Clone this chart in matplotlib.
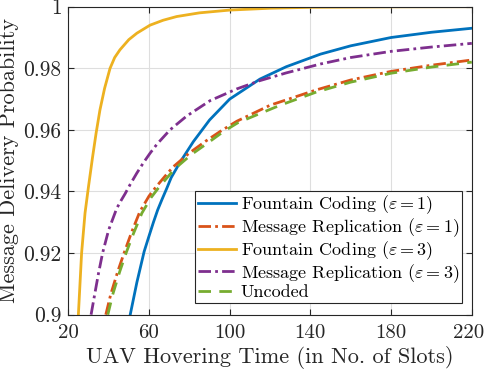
import matplotlib
matplotlib.use("Agg")
import matplotlib.pyplot as plt
import matplotlib.transforms as mtransforms

plt.rcParams['font.family'] = ['cmr10', 'DejaVu Serif']
plt.rcParams['mathtext.fontset'] = 'cm'
plt.rcParams['axes.formatter.use_mathtext'] = True

# Fountain Coding (eps = 1)
x_fc1 = [50.7, 54, 57.6, 60, 62.2, 64.3, 66.5, 68.8, 71, 75.4, 82, 90, 100, 115, 128, 145, 160, 180, 200, 220]
p_fc1 = [0.900, 0.9105, 0.9205, 0.9255, 0.9300, 0.9340, 0.9375, 0.9410, 0.9445, 0.9495, 0.9562, 0.9632,
         0.9700, 0.9765, 0.9805, 0.9846, 0.9873, 0.9900, 0.9917, 0.9930]

# Message Replication (eps = 1)
x_mr1 = [38.6, 41, 44.5, 47.8, 51.4, 55.5, 60, 63.5, 68, 72, 80, 88, 96, 103.5, 120, 143, 160, 180, 200, 220]
p_mr1 = [0.900, 0.9065, 0.9140, 0.9203, 0.9268, 0.9335, 0.9385, 0.9415, 0.9450, 0.9480, 0.9525, 0.9563,
         0.9598, 0.9628, 0.9680, 0.9730, 0.9762, 0.9790, 0.9810, 0.9827]

# Fountain Coding (eps = 3)
x_fc3 = [25, 26.6, 28.3, 30, 32, 33.8, 35.7, 38, 40.7, 43, 45.6, 50, 54, 60.5, 67, 73.7, 85, 100, 120, 140, 180, 220]
p_fc3 = [0.900, 0.920, 0.933, 0.9415, 0.951, 0.959, 0.9665, 0.9735, 0.980, 0.9835, 0.986, 0.9893, 0.9914,
         0.9940, 0.9956, 0.9968, 0.9980, 0.9989, 0.9995, 0.9998, 0.99995, 1.0]

# Message Replication (eps = 3)
x_mr3 = [31.3, 33.2, 35, 37, 40, 44, 46.1, 48.1, 50.6, 54, 57.2, 60.5, 64, 70.4, 78.7, 90.3, 103.5, 115, 128,
         145, 160, 180, 200, 220]
p_mr3 = [0.900, 0.907, 0.9135, 0.920, 0.9275, 0.9345, 0.9370, 0.9392, 0.9422, 0.9460, 0.9493, 0.9524, 0.9554,
         0.9600, 0.9645, 0.9695, 0.9733, 0.9760, 0.9785, 0.9814, 0.9835, 0.9855, 0.9869, 0.9881]

# Uncoded
x_unc = [39.6, 42, 45.5, 48.8, 52.4, 56.5, 61, 64.5, 69, 73, 81, 89, 97, 104, 112, 125, 143, 160, 180, 200, 220]
p_unc = [0.900, 0.9065, 0.9140, 0.9203, 0.9265, 0.9330, 0.9380, 0.9410, 0.9445, 0.9475, 0.9520, 0.9557,
         0.9595, 0.9623, 0.9645, 0.9680, 0.9723, 0.9755, 0.9784, 0.9804, 0.9820]

labels = [r'Fountain Coding ($\varepsilon = 1$)',
          r'Message Replication ($\varepsilon = 1$)',
          r'Fountain Coding ($\varepsilon = 3$)',
          r'Message Replication ($\varepsilon = 3$)',
          'Uncoded']

x_ticks = [20, 60, 100, 140, 180, 220]
y_ticks = [0.9, 0.92, 0.94, 0.96, 0.98, 1.0]
y_ticklabels = ['0.9', '0.92', '0.94', '0.96', '0.98', '1']

fig = plt.figure(figsize=(4.86, 3.70), dpi=100)
ax = fig.add_axes([0.1405, 0.1495, 0.8303, 0.8324])

lw = 2.0
ax.plot(x_fc1, p_fc1, color='#0072BD', lw=lw, ls='-', label=labels[0])
ax.plot(x_mr1, p_mr1, color='#D95319', lw=lw, ls=(0, (4.5, 1.5, 1, 1.5)), label=labels[1])
ax.plot(x_fc3, p_fc3, color='#EDB120', lw=lw, ls='-', label=labels[2])
ax.plot(x_mr3, p_mr3, color='#7E2F8E', lw=lw, ls=(0, (4.5, 1.5, 1, 1.5)), label=labels[3])
ax.plot(x_unc, p_unc, color='#77AC30', lw=lw, ls=(0, (4.5, 3)), label=labels[4])

ax.set_xlim(20, 220)
ax.set_ylim(0.9, 1.0)
ax.set_xticks(x_ticks)
ax.set_xticklabels([str(t) for t in x_ticks])
ax.set_yticks(y_ticks)
ax.set_yticklabels(y_ticklabels)
ax.grid(True, color='#dedede', lw=0.8)
ax.set_axisbelow(True)
ax.tick_params(direction='in', length=4, width=0.8, colors='#262626', labelsize=15,
               top=True, right=True, labelcolor='#262626')
ax.tick_params(axis='x', pad=7)
ax.tick_params(axis='y', pad=5, labelsize=15.5)
for s in ax.spines.values():
    s.set_color('#262626')
    s.set_linewidth(0.8)

# nudge the last x tick label so it stays inside the canvas
last = ax.get_xticklabels()[-1]
last.set_transform(last.get_transform() + mtransforms.ScaledTranslation(-3 / 100, 0, fig.dpi_scale_trans))

ax.set_xlabel('UAV Hovering Time (in No. of Slots)', fontsize=16, color='#262626', labelpad=3)
ax.set_ylabel('Message Delivery Probability', fontsize=16, color='#262626', labelpad=3)

leg = ax.legend(loc='lower right', bbox_to_anchor=(0.9757, 0.038), fontsize=13, frameon=True,
                fancybox=False, edgecolor='#262626', framealpha=1, handlelength=2.1,
                labelspacing=0.0, borderpad=0.15, handletextpad=0.3, borderaxespad=0)
leg.get_frame().set_linewidth(0.8)

fig.savefig('out.png', dpi=100)
